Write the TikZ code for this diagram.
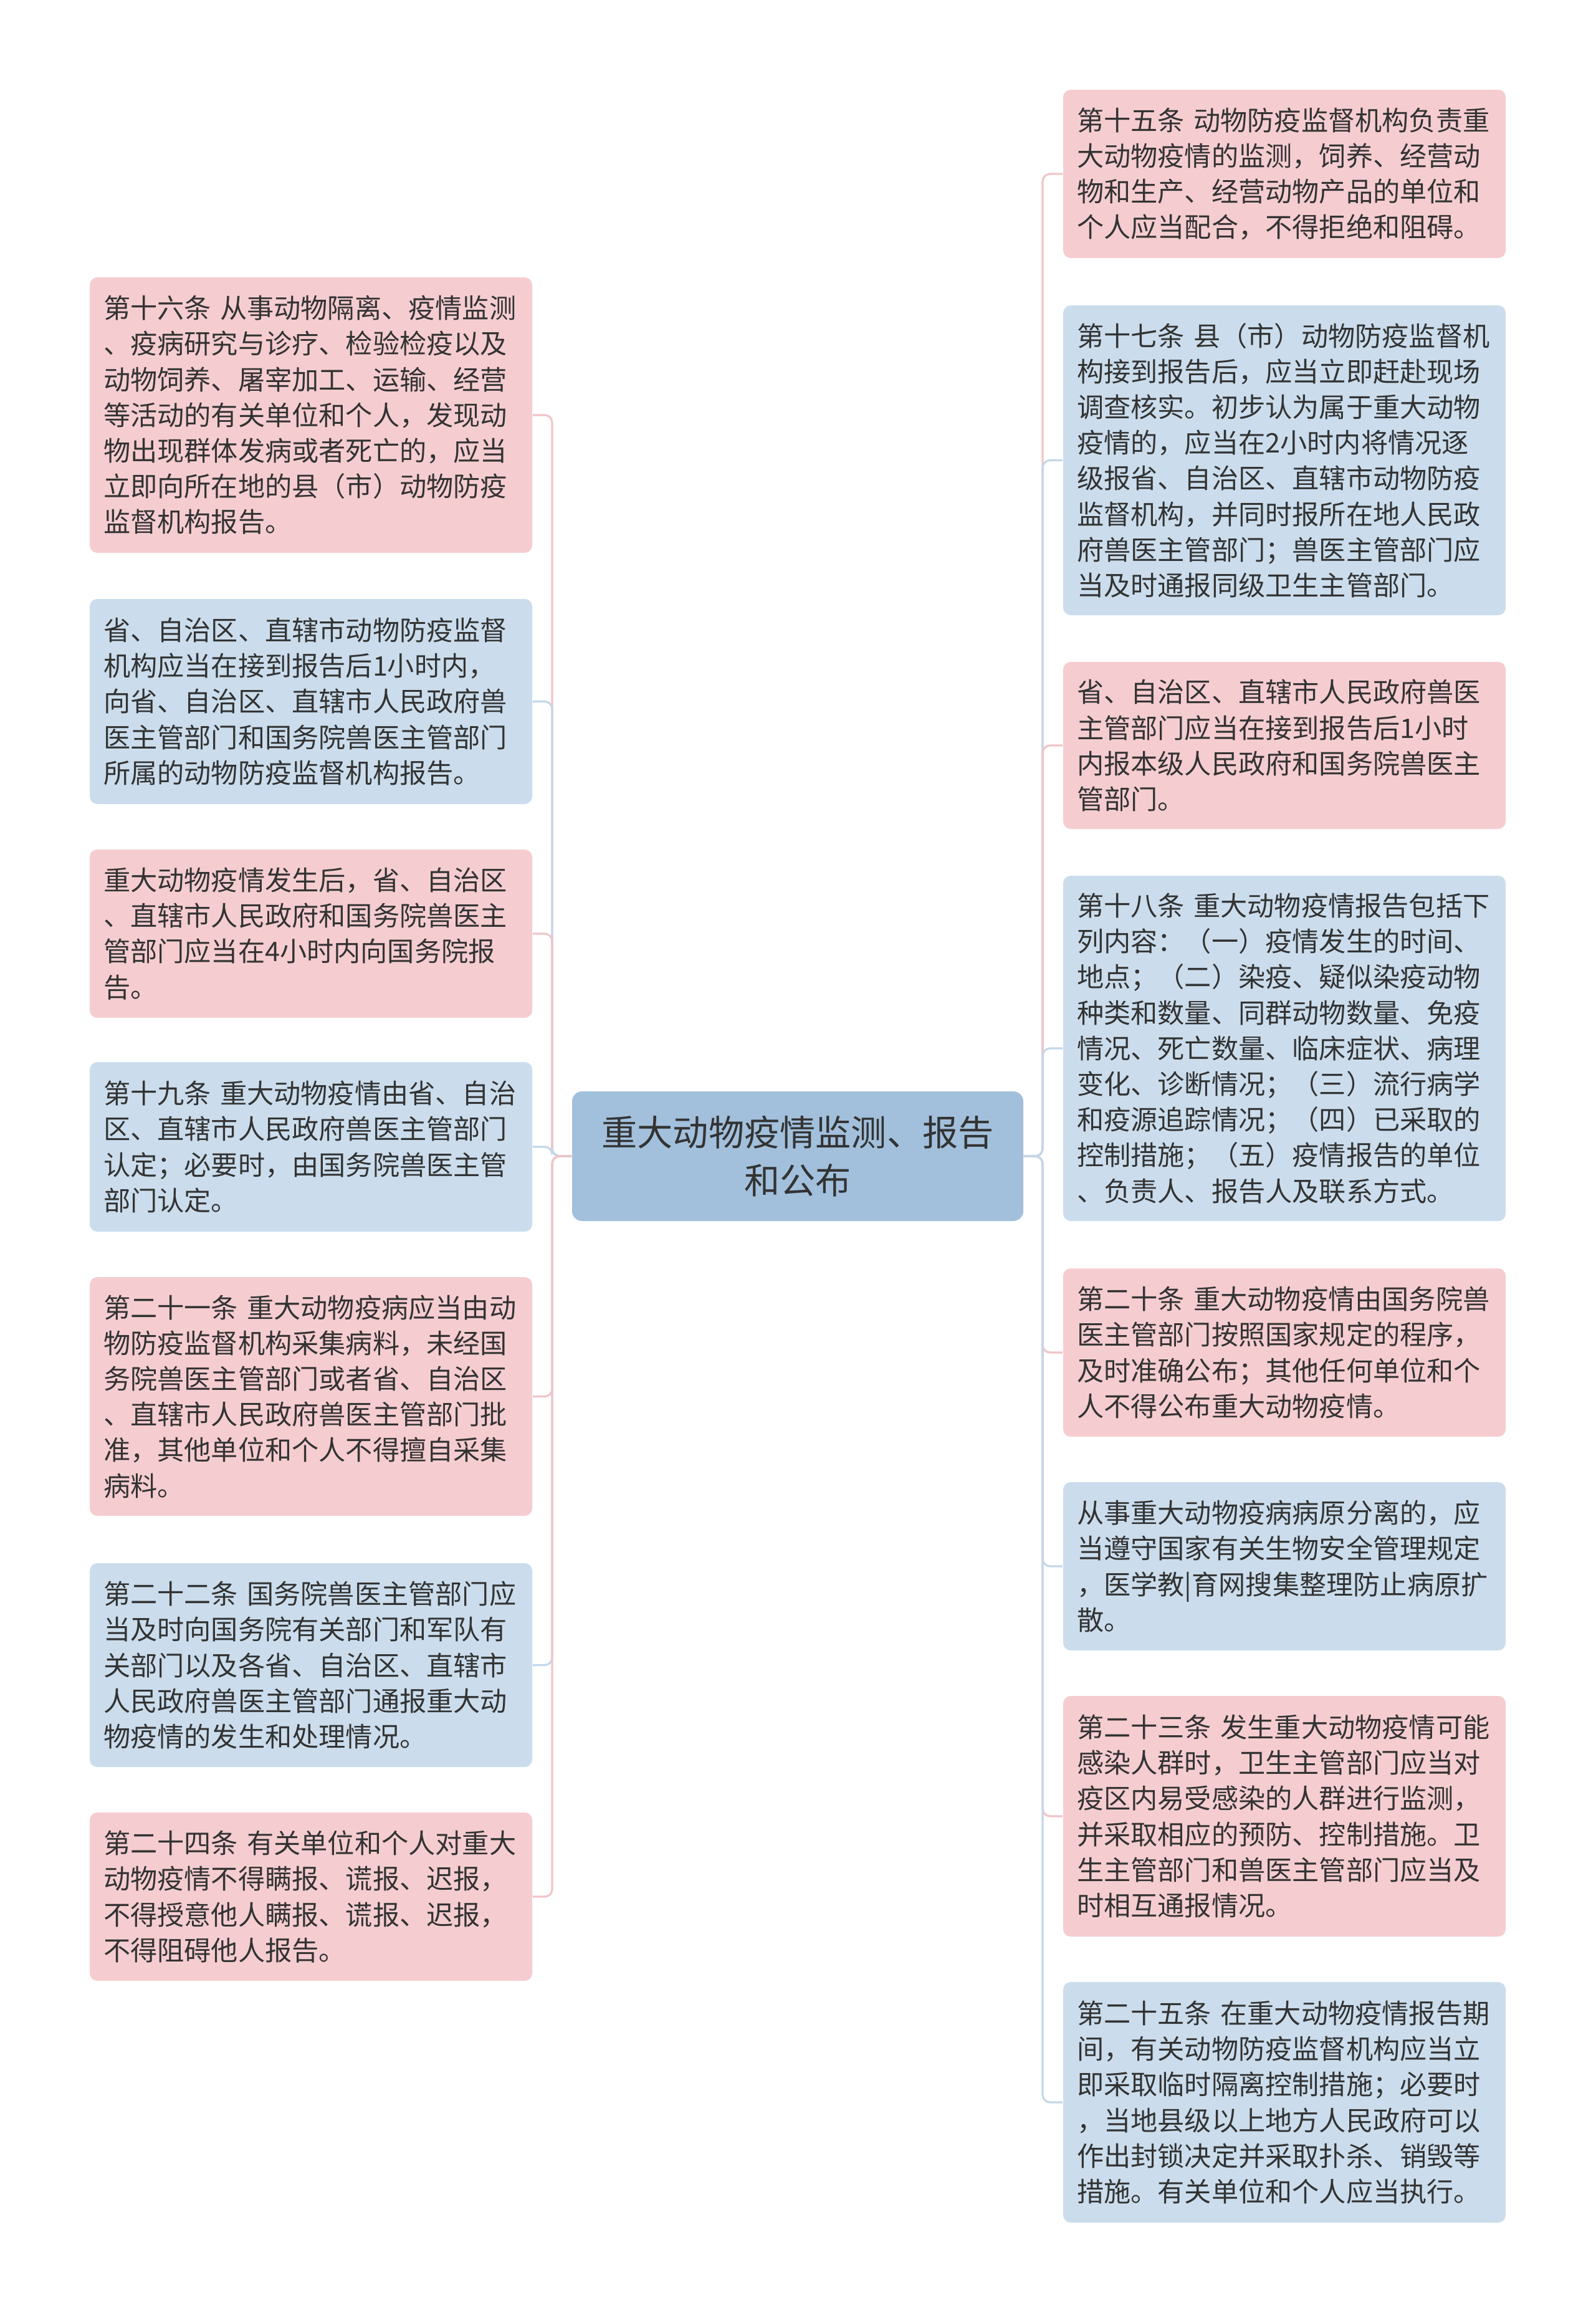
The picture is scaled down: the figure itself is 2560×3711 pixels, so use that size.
\documentclass[tikz,border=0pt]{standalone}
\usepackage{fontspec}
\setmainfont{Noto Sans CJK SC}
\definecolor{pinkfill}{HTML}{F5CDD0}
\definecolor{bluefill}{HTML}{CBDDED}
\definecolor{rootfill}{HTML}{A2C0DC}
\definecolor{linepink}{HTML}{F2C4C8}
\definecolor{lineblue}{HTML}{C3D7EA}
\definecolor{textgray}{HTML}{333333}

\begin{document}
\begin{tikzpicture}[x=0.25pt,y=-0.25pt,
  leaf/.style={rectangle, rounded corners=3pt, text width=166.5pt,
    inner xsep=5.5pt, inner ysep=0pt, align=left, text=textgray,
    font=\fontsize{10.8pt}{14.3pt}\selectfont},
  pinkleaf/.style={leaf, fill=pinkfill},
  blueleaf/.style={leaf, fill=bluefill},
  pinkedge/.style={draw=linepink, line width=0.8pt, rounded corners=3pt},
  blueedge/.style={draw=lineblue, line width=0.8pt, rounded corners=3pt}]
  \useasboundingbox (0,0) rectangle (2560,3711);

  % centre
  \node[rectangle, rounded corners=4pt, fill=rootfill, minimum width=181pt,
    minimum height=52pt, align=center, text=textgray,
    font=\fontsize{14.3pt}{19.2pt}\selectfont] (root) at (1280,1855)
    {重大动物疫情监测、报告\\和公布};
  \coordinate (lt) at (886,1855);
  \coordinate (rt) at (1673,1855);

  % left column
  \node[pinkleaf, minimum height=110.5pt] (l1) at (499,666)
    {第十六条 从事动物隔离、疫情监测\\、疫病研究与诊疗、检验检疫以及\\动物饲养、屠宰加工、运输、经营\\等活动的有关单位和个人，发现动\\物出现群体发病或者死亡的，应当\\立即向所在地的县（市）动物防疫\\监督机构报告。};
  \node[blueleaf, minimum height=82.25pt] (l2) at (499,1125.5)
    {省、自治区、直辖市动物防疫监督\\机构应当在接到报告后1小时内，\\向省、自治区、直辖市人民政府兽\\医主管部门和国务院兽医主管部门\\所属的动物防疫监督机构报告。};
  \node[pinkleaf, minimum height=67.5pt] (l3) at (499,1498)
    {重大动物疫情发生后，省、自治区\\、直辖市人民政府和国务院兽医主\\管部门应当在4小时内向国务院报\\告。};
  \node[blueleaf, minimum height=68pt] (l4) at (499,1840)
    {第十九条 重大动物疫情由省、自治\\区、直辖市人民政府兽医主管部门\\认定；必要时，由国务院兽医主管\\部门认定。};
  \node[pinkleaf, minimum height=95.75pt] (l5) at (499,2240.5)
    {第二十一条 重大动物疫病应当由动\\物防疫监督机构采集病料，未经国\\务院兽医主管部门或者省、自治区\\、直辖市人民政府兽医主管部门批\\准，其他单位和个人不得擅自采集\\病料。};
  \node[blueleaf, minimum height=81.75pt] (l6) at (499,2671.5)
    {第二十二条 国务院兽医主管部门应\\当及时向国务院有关部门和军队有\\关部门以及各省、自治区、直辖市\\人民政府兽医主管部门通报重大动\\物疫情的发生和处理情况。};
  \node[pinkleaf, minimum height=67.5pt] (l7) at (499,3043)
    {第二十四条 有关单位和个人对重大\\动物疫情不得瞒报、谎报、迟报，\\不得授意他人瞒报、谎报、迟报，\\不得阻碍他人报告。};

  % right column
  \node[pinkleaf, minimum height=67.5pt] (r1) at (2061,279)
    {第十五条 动物防疫监督机构负责重\\大动物疫情的监测，饲养、经营动\\物和生产、经营动物产品的单位和\\个人应当配合，不得拒绝和阻碍。};
  \node[blueleaf, minimum height=124.25pt] (r2) at (2061,738.5)
    {第十七条 县（市）动物防疫监督机\\构接到报告后，应当立即赶赴现场\\调查核实。初步认为属于重大动物\\疫情的，应当在2小时内将情况逐\\级报省、自治区、直辖市动物防疫\\监督机构，并同时报所在地人民政\\府兽医主管部门；兽医主管部门应\\当及时通报同级卫生主管部门。};
  \node[pinkleaf, minimum height=67pt] (r3) at (2061,1196)
    {省、自治区、直辖市人民政府兽医\\主管部门应当在接到报告后1小时\\内报本级人民政府和国务院兽医主\\管部门。};
  \node[blueleaf, minimum height=138.5pt] (r4) at (2061,1682)
    {第十八条 重大动物疫情报告包括下\\列内容：（一）疫情发生的时间、\\地点；（二）染疫、疑似染疫动物\\种类和数量、同群动物数量、免疫\\情况、死亡数量、临床症状、病理\\变化、诊断情况；（三）流行病学\\和疫源追踪情况；（四）已采取的\\控制措施；（五）疫情报告的单位\\、负责人、报告人及联系方式。};
  \node[pinkleaf, minimum height=67.5pt] (r5) at (2061,2170)
    {第二十条 重大动物疫情由国务院兽\\医主管部门按照国家规定的程序，\\及时准确公布；其他任何单位和个\\人不得公布重大动物疫情。};
  \node[blueleaf, minimum height=67.5pt] (r6) at (2061,2513)
    {从事重大动物疫病病原分离的，应\\当遵守国家有关生物安全管理规定\\，医学教|育网搜集整理防止病原扩\\散。};
  \node[pinkleaf, minimum height=96.5pt] (r7) at (2061,2914)
    {第二十三条 发生重大动物疫情可能\\感染人群时，卫生主管部门应当对\\疫区内易受感染的人群进行监测，\\并采取相应的预防、控制措施。卫\\生主管部门和兽医主管部门应当及\\时相互通报情况。};
  \node[blueleaf, minimum height=96.5pt] (r8) at (2061,3373)
    {第二十五条 在重大动物疫情报告期\\间，有关动物防疫监督机构应当立\\即采取临时隔离控制措施；必要时\\，当地县级以上地方人民政府可以\\作出封锁决定并采取扑杀、销毁等\\措施。有关单位和个人应当执行。};

  % branches
  \draw[pinkedge] (root.west) -- (lt) |- (l1.east);
  \draw[blueedge] (root.west) -- (lt) |- (l2.east);
  \draw[pinkedge] (root.west) -- (lt) |- (l3.east);
  \draw[blueedge] (root.west) -- (lt) |- (l4.east);
  \draw[pinkedge] (root.west) -- (lt) |- (l5.east);
  \draw[blueedge] (root.west) -- (lt) |- (l6.east);
  \draw[pinkedge] (root.west) -- (lt) |- (l7.east);
  \draw[pinkedge] (root.east) -- (rt) |- (r1.west);
  \draw[blueedge] (root.east) -- (rt) |- (r2.west);
  \draw[pinkedge] (root.east) -- (rt) |- (r3.west);
  \draw[blueedge] (root.east) -- (rt) |- (r4.west);
  \draw[pinkedge] (root.east) -- (rt) |- (r5.west);
  \draw[blueedge] (root.east) -- (rt) |- (r6.west);
  \draw[pinkedge] (root.east) -- (rt) |- (r7.west);
  \draw[blueedge] (root.east) -- (rt) |- (r8.west);
\end{tikzpicture}
\end{document}
